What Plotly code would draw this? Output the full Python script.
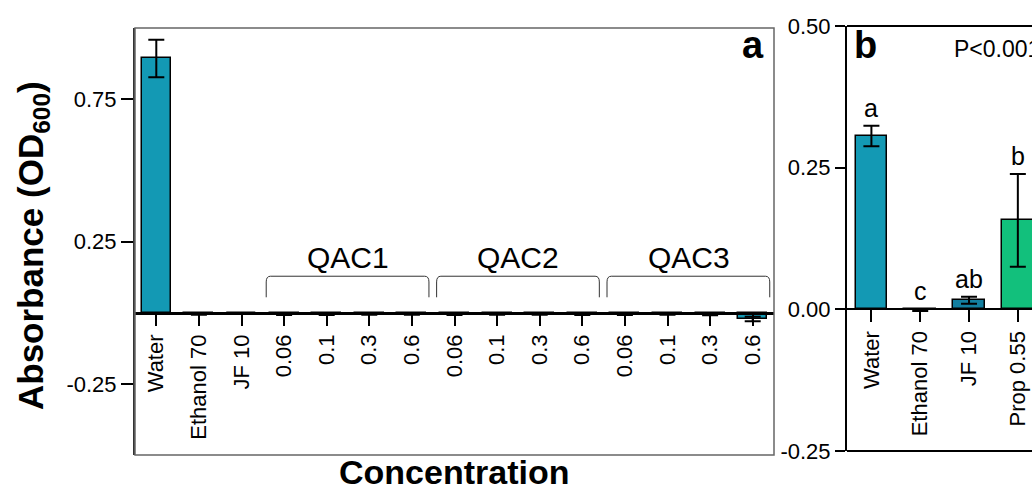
import plotly.graph_objects as go

# ---------------- data ----------------
# Panel a
a_labels = ["Water", "Ethanol 70", "JF 10",
            "0.06", "0.1", "0.3", "0.6",
            "0.06", "0.1", "0.3", "0.6",
            "0.06", "0.1", "0.3", "0.6"]
a_values = [0.893, -0.005, -0.002,
            -0.006, -0.006, -0.005, -0.005,
            -0.006, -0.005, -0.005, -0.006,
            -0.006, -0.005, -0.007, -0.022]
a_errors = [0.066, 0.002, 0.001,
            0.002, 0.002, 0.002, 0.002,
            0.002, 0.002, 0.002, 0.002,
            0.002, 0.002, 0.002, 0.008]
a_groups = ["QAC1", "QAC2", "QAC3"]
a_group_first = [3, 7, 11]
a_group_last = [6, 10, 14]
a_yticks = [-0.25, 0.25, 0.75]

# Panel b
b_labels = ["Water", "Ethanol 70", "JF 10", "Prop 0.55"]
b_values = [0.306, -0.002, 0.016, 0.157]
b_errors = [0.018, 0.001, 0.006, 0.082]
b_letters = ["a", "c", "ab", "b"]
b_yticks = [-0.25, 0.0, 0.25, 0.5]

# ---------------- style ----------------
W, H = 1032, 490
FONT = "Liberation Sans"
TEAL = "#1399B4"
TEAL_D = "#137FA0"
GREEN = "#12C07C"
b_colors = [TEAL, TEAL, TEAL_D, GREEN]

ya_range = [-0.5, 1.0]
yb_range = [-0.25, 0.5]
ya_dom = [1 - 455 / H, 1 - 28 / H]
yb_dom = [1 - 451 / H, 1 - 26 / H]


def zero_pos(rng, dom):
    f = (0 - rng[0]) / (rng[1] - rng[0])
    return dom[0] + f * (dom[1] - dom[0])


fig = go.Figure()

fig.add_trace(go.Bar(
    x=list(range(len(a_values))), y=a_values, width=0.68,
    marker=dict(color=TEAL, line=dict(color="black", width=1.5)),
    error_y=dict(type="data", array=a_errors, color="black", thickness=2, width=8),
    xaxis="x", yaxis="y", showlegend=False, hoverinfo="skip"))

fig.add_trace(go.Bar(
    x=list(range(len(b_values))), y=b_values, width=0.65,
    marker=dict(color=b_colors, line=dict(color="black", width=1.5)),
    error_y=dict(type="data", array=b_errors, color="black", thickness=2, width=8),
    xaxis="x2", yaxis="y2", showlegend=False, hoverinfo="skip"))

tickfont = dict(family=FONT, size=22, color="black")

fig.update_layout(
    width=W, height=H,
    margin=dict(l=0, r=0, t=0, b=0, autoexpand=False),
    paper_bgcolor="white", plot_bgcolor="white",
    font=dict(family=FONT, color="black"),
    showlegend=False,
    bargap=0,
    xaxis=dict(domain=[135 / W, 774 / W], range=[-0.5, 14.5],
               anchor="free", position=zero_pos(ya_range, ya_dom), automargin=False,
               tickmode="array", tickvals=list(range(len(a_labels))), ticktext=a_labels,
               tickangle=-90, ticks="outside", ticklen=11, tickwidth=2, tickcolor="black",
               showline=True, linewidth=3, linecolor="black",
               showgrid=False, zeroline=False, tickfont=tickfont, fixedrange=True),
    yaxis=dict(domain=ya_dom, range=ya_range, anchor="x", automargin=False,
               tickmode="array", tickvals=a_yticks, ticktext=[f"{v:.2f}" for v in a_yticks],
               ticks="outside", ticklen=12, tickwidth=2, tickcolor="black",
               showline=True, linewidth=2, linecolor="#333333",
               showgrid=False, zeroline=False, tickfont=tickfont, fixedrange=True),
    xaxis2=dict(domain=[847 / W, 1.0], range=[-0.5, 3.29],
                anchor="free", position=zero_pos(yb_range, yb_dom), automargin=False,
                tickmode="array", tickvals=list(range(len(b_labels))), ticktext=b_labels,
                tickangle=-90, ticks="outside", ticklen=12, tickwidth=2, tickcolor="black",
                showline=True, linewidth=2, linecolor="black",
                showgrid=False, zeroline=False, tickfont=tickfont, fixedrange=True),
    yaxis2=dict(domain=yb_dom, range=yb_range, anchor="x2", automargin=False,
                tickmode="array", tickvals=b_yticks, ticktext=[f"{v:.2f}" for v in b_yticks],
                ticks="outside", ticklen=10, tickwidth=2, tickcolor="black",
                showline=True, linewidth=2, linecolor="black",
                showgrid=False, zeroline=False, tickfont=tickfont, fixedrange=True),
)

shapes = []
# panel a frame
shapes.append(dict(type="rect", xref="x domain", yref="y domain", x0=0, x1=1, y0=0, y1=1,
                   line=dict(color="#666666", width=1.5), layer="above"))
# panel b top/bottom frame lines
for yy in (0, 1):
    shapes.append(dict(type="line", xref="x2 domain", yref="y2 domain", x0=0, x1=1, y0=yy, y1=yy,
                       line=dict(color="black", width=2), layer="above"))

# group brackets
yt, ybot = 0.128, 0.054
dx, dy = 0.1, 0.02
annotations = []
for name, f, l in zip(a_groups, a_group_first, a_group_last):
    x0, x1 = f - 0.42, l + 0.40
    path = (f"M {x0:.3f},{ybot:.3f} L {x0:.3f},{yt - dy:.3f} Q {x0:.3f},{yt:.3f} {x0 + dx:.3f},{yt:.3f} "
            f"L {x1 - dx:.3f},{yt:.3f} Q {x1:.3f},{yt:.3f} {x1:.3f},{yt - dy:.3f} L {x1:.3f},{ybot:.3f}")
    shapes.append(dict(type="path", xref="x", yref="y", path=path,
                       line=dict(color="#333333", width=1)))
    annotations.append(dict(x=(f + l) / 2, y=yt, xref="x", yref="y", text=name,
                            showarrow=False, xanchor="center", yanchor="bottom", yshift=0,
                            font=dict(family=FONT, size=30, color="black")))

# letters panel b
for i, (v, e, t) in enumerate(zip(b_values, b_errors, b_letters)):
    annotations.append(dict(x=i, y=max(v + e, 0), xref="x2", yref="y2", text=t,
                            showarrow=False, xanchor="center", yanchor="bottom", yshift=2,
                            font=dict(family=FONT, size=25, color="black")))

# titles and panel labels
annotations += [
    dict(x=33 / W, y=1 - 246 / H, xref="paper", yref="paper", textangle=-90,
         xanchor="center", yanchor="middle",
         text="<b>Absorbance (OD<sub>600</sub>)</b>", showarrow=False,
         font=dict(family=FONT, size=35, color="black")),
    dict(x=454 / W, y=1 - 472 / H, xref="paper", yref="paper",
         xanchor="center", yanchor="middle",
         text="<b>Concentration</b>", showarrow=False,
         font=dict(family=FONT, size=34, color="black")),
    dict(x=1, y=1, xref="x domain", yref="y domain", xanchor="right", yanchor="top",
         xshift=-8, yshift=6, text="<b>a</b>", showarrow=False,
         font=dict(family=FONT, size=38, color="black")),
    dict(x=0, y=1, xref="x2 domain", yref="y2 domain", xanchor="left", yanchor="top",
         xshift=5, yshift=4, text="<b>b</b>", showarrow=False,
         font=dict(family=FONT, size=38, color="black")),
    dict(x=(952 - 847) / (W - 847), y=1, xref="x2 domain", yref="y2 domain",
         xanchor="left", yanchor="top", yshift=-8, text="P<0.001", showarrow=False,
         font=dict(family=FONT, size=23, color="black")),
]

fig.update_layout(shapes=shapes, annotations=annotations)
fig.write_html("out.html", config={"displayModeBar": False},
               post_script="document.body.style.margin='0px';")
